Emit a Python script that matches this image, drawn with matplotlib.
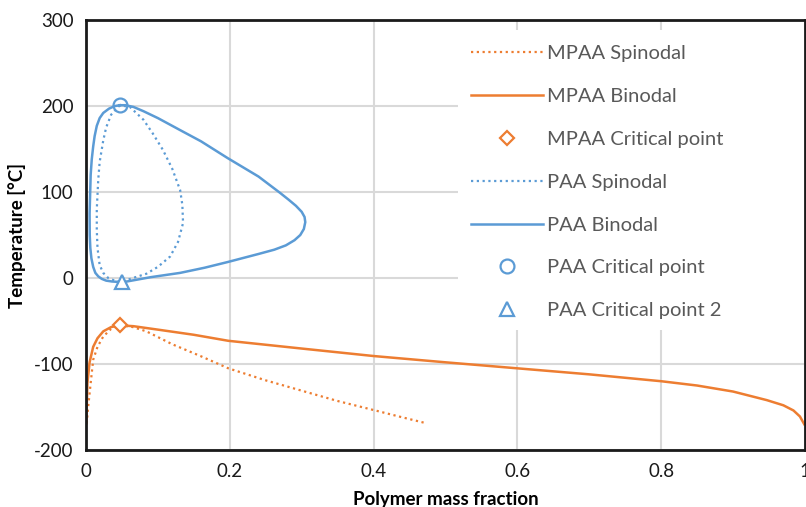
import matplotlib.pyplot as plt
from matplotlib.patches import Rectangle

plt.rcParams['font.family'] = ['Lato', 'DejaVu Sans']
plt.rcParams['axes.unicode_minus'] = False

orange = '#ED7D31'
blue = '#5B9BD5'

# PAA binodal (closed loop, starts/ends at critical point)
paa_bin_x = [0.047, 0.040, 0.032, 0.024, 0.019, 0.015, 0.012, 0.010, 0.008, 0.0065, 0.005,
             0.0052, 0.006, 0.0075, 0.010, 0.013, 0.017, 0.022, 0.028, 0.036, 0.045, 0.057,
             0.09, 0.131, 0.165, 0.197, 0.24, 0.262, 0.278, 0.290, 0.298, 0.303, 0.305,
             0.304, 0.300, 0.292, 0.282, 0.270, 0.24, 0.197, 0.16, 0.131, 0.10, 0.080,
             0.066, 0.055, 0.047]
paa_bin_y = [201, 200, 197, 192, 186, 177, 165, 153, 138, 120, 75,
             50, 35, 23, 13, 6, 2, -1, -3, -4, -4.5, -4,
             1, 6, 12, 18.6, 28, 33, 38, 44, 50, 57, 65,
             71, 77, 84, 91, 99, 118, 139.5, 159, 172, 186, 194,
             199, 201, 201]

# PAA spinodal (closed loop)
paa_spin_x = [0.047, 0.035, 0.028, 0.024, 0.019, 0.017, 0.015, 0.015, 0.016, 0.019, 0.024,
              0.031, 0.040, 0.050, 0.065, 0.084, 0.100, 0.117, 0.128, 0.135, 0.134, 0.131,
              0.120, 0.107, 0.093, 0.080, 0.061, 0.047]
paa_spin_y = [201, 190, 175, 160, 135, 114, 80, 56, 35, 15, 6,
              0, -3, -4.5, 0, 5, 13, 25, 42, 64, 85, 102,
              127, 149, 168, 184, 199, 201]

# MPAA binodal
mpaa_bin_x = [0.0005, 0.001, 0.002, 0.005, 0.010, 0.016, 0.024, 0.035, 0.047, 0.066, 0.10,
              0.15, 0.198, 0.3, 0.4, 0.5, 0.6, 0.7, 0.8, 0.85, 0.9, 0.947, 0.97, 0.984,
              0.993, 0.999]
mpaa_bin_y = [-169, -150, -122, -98, -80, -70, -62, -57, -55, -56, -60,
              -66, -73, -82, -90.7, -98, -105, -112, -120, -125, -132, -142, -148, -154,
              -161, -170]

# MPAA spinodal
mpaa_spin_x = [0.001, 0.003, 0.005, 0.010, 0.016, 0.024, 0.035, 0.047, 0.065, 0.084, 0.12,
               0.16, 0.198, 0.25, 0.3, 0.35, 0.4, 0.44, 0.474]
mpaa_spin_y = [-169, -150, -134, -95, -80, -68, -59, -55, -57, -62, -77,
               -91, -105, -119, -131, -143, -153.5, -162, -169]

mpaa_crit = (0.047, -55)
paa_crit = (0.047, 201)
paa_crit2 = (0.050, -4.5)

fig = plt.figure(figsize=(8.06, 5.07), dpi=100)
ax = fig.add_axes([0.1067, 0.1124, 0.892, 0.848])

dot = (0, (1, 1.6))
ax.plot(mpaa_spin_x, mpaa_spin_y, color=orange, lw=1.6, ls=dot, label='MPAA Spinodal')
ax.plot(mpaa_bin_x, mpaa_bin_y, color=orange, lw=1.8, label='MPAA Binodal')
ax.plot(*mpaa_crit, ls='none', marker='D', ms=7, mfc='white', mec=orange, mew=1.6,
        label='MPAA Critical point')
ax.plot(paa_spin_x, paa_spin_y, color=blue, lw=1.6, ls=dot, label='PAA Spinodal')
ax.plot(paa_bin_x, paa_bin_y, color=blue, lw=1.8, label='PAA Binodal')
ax.plot(*paa_crit, ls='none', marker='o', ms=10, mfc='none', mec=blue, mew=1.6,
        label='PAA Critical point', zorder=3)
ax.plot(*paa_crit2, ls='none', marker='^', ms=10, mfc='white', mec=blue, mew=1.6,
        label='PAA Critical point 2', zorder=3)

ax.set_xlim(0, 1)
ax.set_ylim(-200, 300)
ax.set_xticks([0, 0.2, 0.4, 0.6, 0.8, 1])
ax.set_xticklabels(['0', '0.2', '0.4', '0.6', '0.8', '1'])
ax.set_yticks([-200, -100, 0, 100, 200, 300])
ax.tick_params(length=0, labelsize=13.5, colors='#1a1a1a', pad=9)
ax.set_axisbelow(True)
ax.grid(True, color='#D9D9D9', lw=1.5)
for s in ax.spines.values():
    s.set_linewidth(2)
    s.set_color('#1a1a1a')

ax.set_xlabel('Polymer mass fraction', fontsize=13.5, fontweight='bold', labelpad=8)
ax.set_ylabel('Temperature [°C]', fontsize=13.5, fontweight='bold', labelpad=6)

# white area behind the legend
ax.add_patch(Rectangle((0.517, 0.279), 0.483, 0.698, transform=ax.transAxes,
                       facecolor='white', edgecolor='none', zorder=1))

leg = ax.legend(loc='upper left', bbox_to_anchor=(0.535, 0.942), frameon=False,
                fontsize=14.5, handlelength=3.6, handletextpad=0.2, labelspacing=1.28,
                borderpad=0, borderaxespad=0)
for t in leg.get_texts():
    t.set_color('#595959')

fig.savefig('out.png', dpi=100)
